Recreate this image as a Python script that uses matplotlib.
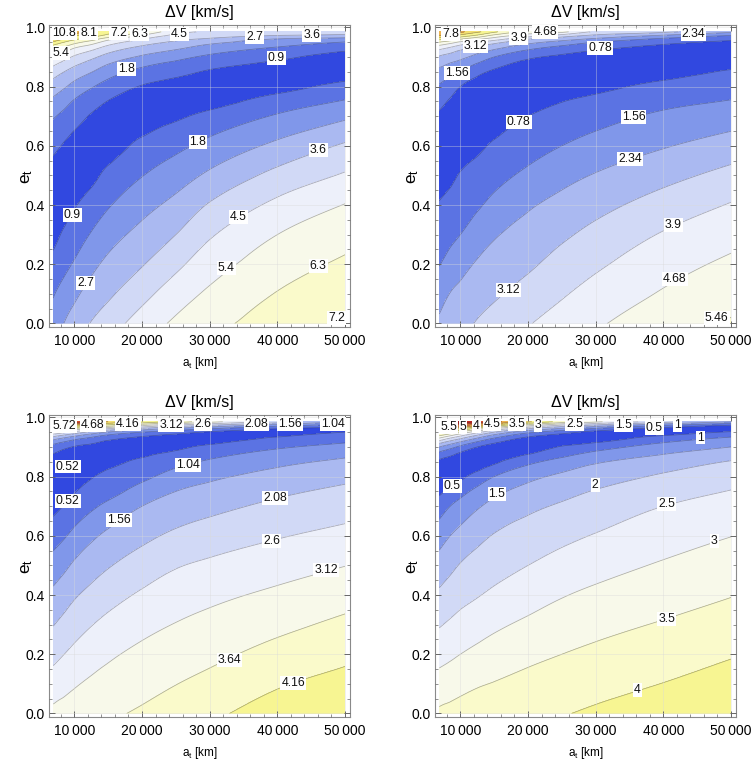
import numpy as np
import matplotlib
matplotlib.use("Agg")
import matplotlib.pyplot as plt
import matplotlib.tri as mtri
from matplotlib.ticker import FixedLocator, MultipleLocator

plt.rcParams['font.family'] = ['Liberation Sans', 'DejaVu Sans']

# ---------------- data ----------------
# grid of target semi-major axis (columns) and eccentricity (rows)
A_KM = [6878, 8500, 10000, 12500, 15000, 20000, 25000, 30000, 40000, 50000]
E_T = [0.0, 0.1, 0.2, 0.3, 0.4, 0.5, 0.6, 0.7, 0.75, 0.8, 0.85, 0.9, 0.93, 0.95, 0.96, 0.97, 0.985]

# Delta-V [km/s]; one list per a_t column, values listed along E_T
DV_TL = [
    [2.10, 1.74, 1.17, 0.60, 0.35, 0.53, 1.13, 1.89, 2.50, 3.19, 4.04, 5.40, 6.60, 7.95, 9.00, 10.16, 11.6],
    [2.72, 2.14, 1.56, 1.05, 0.49, 0.37, 0.81, 1.58, 2.10, 2.80, 3.60, 4.86, 6.08, 7.20, 8.02, 9.30, 10.9],
    [3.09, 2.51, 1.89, 1.36, 0.82, 0.36, 0.55, 1.30, 1.72, 2.40, 3.24, 4.37, 5.40, 6.65, 7.35, 8.10, 9.9],
    [3.65, 3.05, 2.46, 1.86, 1.29, 0.65, 0.35, 0.81, 1.32, 1.88, 2.74, 3.82, 4.83, 5.89, 6.71, 7.46, 8.3],
    [4.09, 3.44, 2.91, 2.33, 1.72, 1.15, 0.47, 0.48, 0.87, 1.45, 2.20, 3.26, 4.14, 5.00, 5.66, 6.75, 7.6],
    [4.89, 4.22, 3.54, 2.98, 2.39, 1.77, 1.15, 0.39, 0.41, 0.84, 1.52, 2.57, 3.34, 4.05, 4.50, 5.10, 6.5],
    [5.56, 4.96, 4.29, 3.60, 2.96, 2.28, 1.58, 0.75, 0.36, 0.53, 1.20, 2.06, 2.85, 3.45, 3.81, 4.21, 4.8],
    [6.02, 5.55, 5.00, 4.39, 3.68, 2.86, 2.06, 1.15, 0.57, 0.36, 0.80, 1.63, 2.31, 2.95, 3.45, 3.89, 4.4],
    [6.69, 6.34, 5.88, 5.40, 4.71, 3.87, 2.90, 1.89, 1.29, 0.59, 0.39, 1.10, 1.70, 2.30, 2.63, 3.42, 4.3],
    [7.26, 6.85, 6.45, 5.96, 5.43, 4.60, 3.72, 2.53, 1.87, 1.20, 0.45, 0.53, 1.17, 1.77, 2.34, 3.10, 4.4],
]
DV_TR = [
    [2.45, 2.06, 1.53, 1.18, 0.84, 0.40, 0.32, 0.66, 1.04, 1.47, 2.13, 3.02, 4.16, 5.46, 6.46, 7.58, 8.9],
    [2.66, 2.36, 1.83, 1.38, 1.03, 0.60, 0.31, 0.45, 0.69, 1.17, 1.82, 2.79, 3.77, 5.03, 6.02, 7.02, 8.4],
    [2.87, 2.52, 2.08, 1.56, 1.20, 0.84, 0.38, 0.34, 0.50, 0.78, 1.53, 2.56, 3.38, 4.55, 5.46, 6.53, 8.0],
    [3.18, 2.80, 2.42, 1.94, 1.46, 1.07, 0.62, 0.30, 0.35, 0.53, 0.98, 2.08, 2.92, 4.04, 4.78, 5.85, 7.2],
    [3.41, 3.01, 2.65, 2.26, 1.76, 1.31, 0.89, 0.37, 0.30, 0.40, 0.67, 1.56, 2.52, 3.41, 4.25, 5.03, 6.4],
    [3.85, 3.41, 2.99, 2.63, 2.24, 1.72, 1.24, 0.78, 0.41, 0.30, 0.44, 0.91, 1.76, 2.60, 3.12, 4.10, 5.2],
    [4.22, 3.82, 3.41, 2.99, 2.57, 2.10, 1.56, 1.03, 0.76, 0.36, 0.33, 0.65, 1.28, 2.08, 2.64, 3.34, 4.9],
    [4.58, 4.18, 3.77, 3.34, 2.88, 2.39, 1.84, 1.27, 0.97, 0.58, 0.30, 0.50, 0.94, 1.56, 2.16, 2.80, 3.8],
    [5.06, 4.75, 4.37, 3.96, 3.44, 2.88, 2.28, 1.70, 1.35, 0.99, 0.50, 0.32, 0.56, 0.98, 1.37, 2.05, 3.3],
    [5.52, 5.23, 4.84, 4.40, 3.95, 3.36, 2.69, 1.97, 1.60, 1.23, 0.86, 0.32, 0.39, 0.65, 0.92, 1.38, 2.5],
]
DV_BL = [
    [3.24, 2.84, 2.45, 2.06, 1.68, 1.26, 0.81, 0.38, 0.26, 0.26, 0.38, 0.83, 1.82, 3.12, 4.16, 5.46, 7.2],
    [3.30, 2.97, 2.60, 2.23, 1.85, 1.45, 0.99, 0.54, 0.33, 0.25, 0.33, 0.63, 1.52, 2.77, 3.77, 5.20, 6.8],
    [3.36, 3.07, 2.73, 2.38, 2.02, 1.64, 1.18, 0.72, 0.49, 0.28, 0.28, 0.49, 1.26, 2.45, 3.38, 4.68, 6.6],
    [3.45, 3.20, 2.90, 2.58, 2.22, 1.86, 1.46, 0.95, 0.72, 0.48, 0.25, 0.40, 0.95, 1.93, 2.81, 4.03, 6.0],
    [3.55, 3.30, 3.04, 2.74, 2.40, 2.04, 1.67, 1.16, 0.86, 0.68, 0.37, 0.30, 0.69, 1.51, 2.39, 3.64, 5.2],
    [3.71, 3.47, 3.24, 2.97, 2.67, 2.32, 1.95, 1.56, 1.24, 0.92, 0.64, 0.25, 0.41, 1.04, 1.77, 2.86, 4.6],
    [3.88, 3.63, 3.39, 3.14, 2.86, 2.56, 2.18, 1.77, 1.56, 1.24, 0.88, 0.42, 0.29, 0.73, 1.30, 2.21, 4.0],
    [4.06, 3.78, 3.52, 3.27, 3.00, 2.69, 2.33, 1.93, 1.71, 1.46, 1.11, 0.64, 0.25, 0.47, 0.94, 1.77, 3.3],
    [4.38, 4.11, 3.81, 3.51, 3.22, 2.90, 2.56, 2.19, 1.98, 1.73, 1.43, 0.97, 0.59, 0.25, 0.45, 1.04, 2.4],
    [4.62, 4.33, 4.04, 3.75, 3.44, 3.11, 2.75, 2.38, 2.19, 1.95, 1.66, 1.20, 0.82, 0.52, 0.25, 0.65, 1.6],
]
DV_BR = [
    [3.58, 3.21, 2.82, 2.46, 2.09, 1.71, 1.28, 0.74, 0.40, 0.20, 0.40, 1.50, 3.00, 4.36, 5.20, 6.25, 7.8],
    [3.62, 3.30, 2.91, 2.57, 2.23, 1.88, 1.50, 1.00, 0.62, 0.24, 0.29, 1.18, 2.50, 3.92, 4.75, 5.75, 7.4],
    [3.66, 3.37, 3.00, 2.67, 2.34, 2.03, 1.65, 1.17, 0.83, 0.39, 0.22, 0.88, 2.11, 3.42, 4.33, 5.37, 7.0],
    [3.71, 3.46, 3.12, 2.79, 2.47, 2.19, 1.86, 1.44, 1.13, 0.70, 0.22, 0.50, 1.50, 2.67, 3.60, 4.75, 6.4],
    [3.76, 3.52, 3.22, 2.91, 2.59, 2.31, 2.03, 1.64, 1.38, 1.00, 0.42, 0.30, 1.00, 2.00, 2.83, 4.00, 5.8],
    [3.86, 3.64, 3.38, 3.09, 2.79, 2.50, 2.21, 1.89, 1.66, 1.36, 0.88, 0.22, 0.40, 1.14, 1.86, 2.88, 4.6],
    [3.97, 3.74, 3.50, 3.24, 2.97, 2.68, 2.38, 2.06, 1.85, 1.60, 1.17, 0.54, 0.22, 0.70, 1.29, 2.10, 3.8],
    [4.07, 3.84, 3.60, 3.36, 3.10, 2.82, 2.53, 2.20, 2.03, 1.76, 1.44, 0.79, 0.26, 0.35, 0.81, 1.58, 3.1],
    [4.27, 4.01, 3.77, 3.54, 3.29, 3.05, 2.78, 2.50, 2.28, 2.07, 1.73, 1.21, 0.72, 0.24, 0.26, 0.80, 2.2],
    [4.45, 4.21, 3.96, 3.72, 3.48, 3.24, 2.99, 2.68, 2.52, 2.28, 2.03, 1.50, 1.07, 0.56, 0.23, 0.30, 1.5],
]

LEVELS_TL = [0.9, 1.8, 2.7, 3.6, 4.5, 5.4, 6.3, 7.2, 8.1, 9.0, 9.9, 10.8]
LEVELS_TR = [0.78, 1.56, 2.34, 3.12, 3.9, 4.68, 5.46, 6.24, 7.02, 7.8]
LEVELS_BL = [0.52, 1.04, 1.56, 2.08, 2.6, 3.12, 3.64, 4.16, 4.68, 5.2, 5.72, 6.24]
LEVELS_BR = [0.5, 1, 1.5, 2, 2.5, 3, 3.5, 4, 4.5, 5, 5.5, 6, 6.5, 7]

# contour labels (a_t, e_t, text)
LABELS_TL = [(8520, 0.980, "10.8"), (12120, 0.981, "8.1"), (16560, 0.981, "7.2"),
             (19630, 0.977, "6.3"), (25560, 0.977, "4.5"), (36670, 0.966, "2.7"),
             (45070, 0.974, "3.6"), (8030, 0.912, "5.4"), (17650, 0.859, "1.8"),
             (39880, 0.897, "0.9"), (28270, 0.614, "1.8"), (46040, 0.585, "3.6"),
             (9660, 0.366, "0.9"), (34200, 0.360, "4.5"), (32470, 0.186, "5.4"),
             (46040, 0.194, "6.3"), (11630, 0.135, "2.7"), (48770, 0.017, "7.2")]
LABELS_TR = [(8524, 0.976, "7.8"), (12214, 0.937, "3.12"), (18620, 0.963, "3.9"),
             (22546, 0.983, "4.68"), (44450, 0.976, "2.34"), (30664, 0.929, "0.78"),
             (9513, 0.847, "1.56"), (18620, 0.681, "0.78"), (35590, 0.698, "1.56"),
             (35090, 0.554, "2.34"), (41500, 0.332, "3.9"), (41730, 0.149, "4.68"),
             (17140, 0.1125, "3.12"), (47890, 0.017, "5.46")]
LABELS_BL = [(8519, 0.971, "5.72"), (12711, 0.974, "4.68"), (17900, 0.976, "4.16"),
             (24320, 0.974, "3.12"), (29010, 0.976, "2.6"), (36910, 0.979, "2.08"),
             (41850, 0.976, "1.56"), (48270, 0.976, "1.04"), (9010, 0.834, "0.52"),
             (9010, 0.719, "0.52"), (26790, 0.839, "1.04"), (16560, 0.654, "1.56"),
             (39630, 0.727, "2.08"), (39140, 0.584, "2.6"), (47200, 0.484, "3.12"),
             (32960, 0.180, "3.64"), (42340, 0.103, "4.16")]
LABELS_BR = [(8290, 0.968, "5.5"), (10400, 0.968, "5"), (12360, 0.971, "4"),
             (14680, 0.976, "4.5"), (18370, 0.976, "3.5"), (21470, 0.974, "3"),
             (26890, 0.976, "2.5"), (34120, 0.974, "1.5"), (38640, 0.965, "0.5"),
             (42140, 0.973, "1"), (45530, 0.932, "1"), (8780, 0.768, "0.5"),
             (15420, 0.741, "1.5"), (29930, 0.772, "2"), (40510, 0.708, "2.5"),
             (47550, 0.581, "3"), (40510, 0.320, "3.5"), (36180, 0.079, "4")]

X_TICKS = [10000, 20000, 30000, 40000, 50000]
X_TICKLABELS = ["10\u2009000", "20\u2009000", "30\u2009000", "40\u2009000", "50\u2009000"]
Y_TICKS = [0.0, 0.2, 0.4, 0.6, 0.8, 1.0]
Y_TICKLABELS = ["0.0", "0.2", "0.4", "0.6", "0.8", "1.0"]

# ---------------- style ----------------
BAND_COLORS = ["#3148e0", "#5b73e3", "#8097ea", "#aab9f1", "#d1d9f6", "#edf0fa",
               "#f8f9ea", "#fafacb", "#f7f592", "#f4e070", "#eeb450", "#e5843c",
               "#d8502e", "#c52a22", "#b01818", "#9a1010", "#901010"]

W, H = 754, 765
fig = plt.figure(figsize=(W / 100, H / 100), dpi=100)

# frame boxes in pixels: left, top, right, bottom
BOXES = [(49, 25, 350, 327), (435, 25, 736, 327), (49, 415, 350, 717), (435, 415, 736, 717)]


def refined_field(cols):
    z = np.array(cols, float).T  # (nE, nA)
    nE, nA = z.shape
    A, E = np.meshgrid(A_KM, E_T)
    a0, a1 = A_KM[0], A_KM[-1]
    xn = (A - a0) / (a1 - a0)
    tris = []
    for i in range(nE - 1):
        for j in range(nA - 1):
            p = i * nA + j
            tris.append([p, p + 1, p + nA + 1])
            tris.append([p, p + nA + 1, p + nA])
    tri = mtri.Triangulation(xn.ravel(), E.ravel(), np.array(tris))
    interp = mtri.CubicTriInterpolator(tri, z.ravel(), kind='geom')
    refiner = mtri.UniformTriRefiner(tri)
    rtri, rz = refiner.refine_field(z.ravel(), triinterpolator=interp, subdiv=4)
    out = mtri.Triangulation(a0 + rtri.x * (a1 - a0), rtri.y, rtri.triangles)
    return out, rz


panels = [(DV_TL, LEVELS_TL, LABELS_TL), (DV_TR, LEVELS_TR, LABELS_TR),
          (DV_BL, LEVELS_BL, LABELS_BL), (DV_BR, LEVELS_BR, LABELS_BR)]

for (cols, levels, labels), (l, t, r, b) in zip(panels, BOXES):
    ax = fig.add_axes([l / W, 1 - b / H, (r - l) / W, (b - t) / H])
    tri, z = refined_field(cols)
    bounds = [-100.0] + list(levels) + [1000.0]
    ax.tricontourf(tri, z, levels=bounds, colors=BAND_COLORS[:len(bounds) - 1])
    ax.tricontour(tri, z, levels=levels, colors=[(0.1, 0.1, 0.2, 0.35)], linewidths=0.55)
    for (xa, ye, txt) in labels:
        ax.text(xa, ye, txt, ha='center', va='center', fontsize=8.8, color='#111111',
                bbox=dict(boxstyle='square,pad=0.08', fc='white', ec='none'), zorder=5)

    ax.set_xlim(6250, 50740)
    ax.set_ylim(-0.012, 1.008)
    ax.xaxis.set_major_locator(FixedLocator(X_TICKS))
    ax.set_xticklabels(X_TICKLABELS)
    ax.yaxis.set_major_locator(FixedLocator(Y_TICKS))
    ax.set_yticklabels(Y_TICKLABELS)
    ax.xaxis.set_minor_locator(MultipleLocator(2000))
    ax.yaxis.set_minor_locator(MultipleLocator(0.05))
    ax.tick_params(which='both', direction='in', top=True, right=True, color='#666666',
                   labelsize=10, pad=3)
    ax.tick_params(which='major', length=4, width=0.7)
    ax.tick_params(which='minor', length=2, width=0.5)
    ax.tick_params(axis='x', pad=5)
    for s in ax.spines.values():
        s.set_color('#8a8a8a')
        s.set_linewidth(0.8)
    ax.grid(True, which='major', color=(0.85, 0.85, 0.85), alpha=0.45, linewidth=0.6)
    ax.set_axisbelow(False)

    ax.set_xlabel(r"$\mathregular{a_t}$ [km]", fontsize=8.5)
    ax.xaxis.set_label_coords(0.5, -0.093)
    ax.set_ylabel(r"$\mathregular{e_t}$", fontsize=12.5)
    ax.yaxis.set_label_coords(-0.045, 0.5)
    ax.text(0.5, 1 + 12.5 / (b - t), "\u0394V [km/s]", transform=ax.transAxes,
            ha='center', va='center', fontsize=11.5)

fig.savefig("out.png", dpi=100)
